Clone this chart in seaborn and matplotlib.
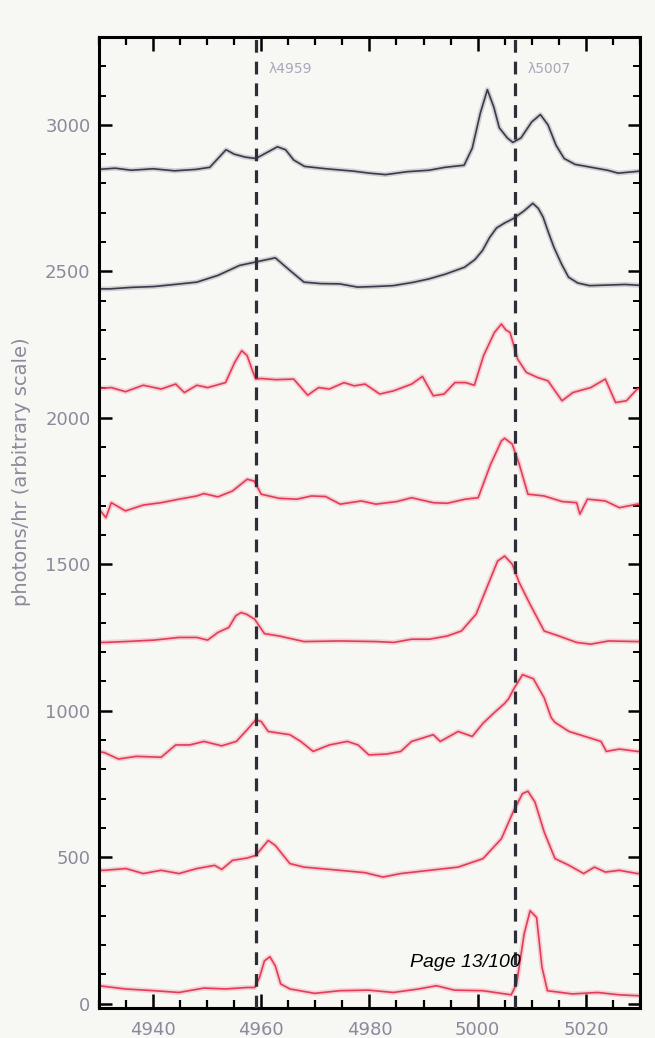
import matplotlib
matplotlib.use("Agg")
import matplotlib.pyplot as plt
import seaborn as sns
import pandas as pd
from matplotlib.ticker import MultipleLocator

# ---------------- data ----------------
wl_1 = [4930, 4933, 4936, 4940, 4944, 4948, 4950.5, 4952, 4953.5, 4955, 4957, 4959, 4961, 4963,
        4964.5, 4966, 4968, 4972, 4977, 4980, 4983, 4987, 4991, 4994, 4997.5, 4999, 5000.5,
        5001.8, 5003, 5004, 5005.5, 5006.5, 5008, 5010, 5011.6, 5013, 5014.5, 5016, 5018,
        5021, 5024, 5026, 5030]
flux_1 = [2848, 2852, 2845, 2850, 2843, 2848, 2855, 2885, 2915, 2900, 2890, 2885, 2905, 2925,
          2915, 2880, 2858, 2850, 2842, 2835, 2830, 2840, 2845, 2855, 2862, 2920, 3040,
          3120, 3060, 2990, 2955, 2940, 2955, 3010, 3035, 3000, 2930, 2885, 2865,
          2855, 2845, 2835, 2842]

wl_2 = [4930, 4932, 4936, 4940.2, 4944, 4948.1, 4952, 4956, 4958.8, 4962.6, 4965.3, 4967.9,
        4971, 4974.5, 4977.8, 4981, 4984.4, 4988, 4991, 4994, 4997.6, 4999.5, 5000.9, 5002.2,
        5003.5, 5005, 5006.5, 5008.5, 5010.2, 5011.2, 5012.1, 5013.1, 5014.1, 5015.5, 5016.8,
        5018.5, 5020.7, 5024, 5027.3, 5030]
flux_2 = [2440, 2440, 2445, 2448, 2455, 2463, 2486, 2520, 2531, 2546, 2503, 2463,
          2458, 2457, 2446, 2448, 2451, 2462, 2474, 2490, 2514, 2540, 2571, 2615,
          2648, 2665, 2679, 2705, 2732, 2715, 2685, 2632, 2582, 2525, 2480,
          2460, 2451, 2453, 2455, 2452]

wl_3 = [4930, 4932.3, 4934.9, 4938.2, 4941.5, 4944.2, 4945.8, 4948.1, 4950.1, 4953.4, 4955.1,
        4956.4, 4957.4, 4958.4, 4959, 4960, 4962.7, 4966, 4968.6, 4970.6, 4972.6, 4975.3,
        4977.2, 4979.2, 4981.9, 4984.5, 4987.8, 4989.8, 4991.8, 4993.8, 4995.8, 4997.8,
        4999.4, 5001.1, 5003.1, 5004.4, 5005.2, 5006, 5007.4, 5009, 5011, 5013, 5015.6,
        5017.6, 5020.9, 5023.6, 5025.5, 5027.5, 5029.5, 5030]
flux_3 = [2100, 2103, 2089, 2111, 2098, 2115, 2086, 2111, 2103, 2120, 2189,
          2229, 2212, 2160, 2132, 2134, 2130, 2132, 2077, 2103, 2098, 2120,
          2109, 2115, 2081, 2092, 2115, 2141, 2075, 2081, 2120, 2120,
          2111, 2212, 2291, 2320, 2300, 2291, 2200, 2155, 2138, 2126, 2058,
          2086, 2103, 2132, 2052, 2058, 2098, 2100]

wl_4 = [4930.3, 4931.3, 4932.3, 4934.9, 4938.2, 4941.5, 4944.8, 4948.1, 4949.4, 4952, 4954.7,
        4957.4, 4958.7, 4960, 4963.3, 4966.6, 4969.3, 4971.9, 4974.6, 4978.5, 4981.2, 4985.1,
        4987.8, 4991.8, 4994.4, 4997.7, 5000.1, 5002.4, 5004.4, 5005, 5006.4, 5007.7, 5009.3,
        5012.3, 5015.6, 5018.3, 5018.9, 5020.3, 5023.6, 5026.2, 5029.5, 5030]
flux_4 = [1682, 1659, 1710, 1682, 1702, 1710, 1722, 1733, 1741, 1730, 1750,
          1790, 1784, 1739, 1725, 1722, 1733, 1731, 1705, 1716, 1705, 1714,
          1727, 1710, 1708, 1722, 1727, 1841, 1921, 1930, 1910, 1841, 1739,
          1733, 1714, 1710, 1671, 1722, 1716, 1693, 1705, 1705]

wl_5 = [4930, 4931, 4934.9, 4940.2, 4944.8, 4948.1, 4950.1, 4952, 4954, 4955.3, 4956.3, 4957.3,
        4958.8, 4960.6, 4963.3, 4967.9, 4974.5, 4981.2, 4984.5, 4987.8, 4991.1, 4994.4, 4997,
        4999.7, 5001.7, 5003.7, 5005, 5006.4, 5007.7, 5009.7, 5012.3, 5015, 5018.3, 5020.9,
        5024.2, 5029.5, 5030]
flux_5 = [1233, 1233, 1236, 1241, 1250, 1250, 1241, 1267, 1284, 1324, 1335, 1329,
          1312, 1263, 1255, 1236, 1238, 1236, 1233, 1244, 1244, 1255, 1272,
          1329, 1420, 1511, 1528, 1500, 1437, 1363, 1272, 1255, 1233, 1227,
          1238, 1236, 1236]

wl_6 = [4930, 4931, 4933.6, 4936.9, 4941.5, 4944.2, 4946.8, 4949.4, 4952.7, 4955.4, 4957.4,
        4959, 4960, 4961.3, 4965.3, 4967.3, 4969.6, 4972.6, 4975.9, 4977.9, 4979.9, 4983.2,
        4985.8, 4987.8, 4991.8, 4993.1, 4996.4, 4999, 5001, 5003, 5005, 5005.7, 5006.7,
        5008.3, 5010.3, 5012.3, 5013.6, 5014.3, 5016.9, 5020.9, 5022.8, 5023.8, 5026.2,
        5029.5, 5030]
flux_6 = [860, 857, 835, 844, 841, 883, 883, 895, 880, 895, 935,
          969, 963, 929, 918, 895, 861, 883, 895, 883, 849, 852,
          861, 895, 918, 895, 929, 912, 957, 992, 1025, 1040, 1075,
          1123, 1109, 1044, 976, 960, 929, 906, 895, 861, 869,
          861, 860]

wl_7 = [4930, 4931, 4935, 4938.2, 4941.5, 4944.8, 4948.1, 4951.4, 4952.7, 4954.7, 4957.4,
        4959, 4961.3, 4962.6, 4965.3, 4967.9, 4974.5, 4979.2, 4982.5, 4985.8, 4991.1, 4996.4,
        5001, 5004.4, 5006.7, 5008.3, 5009.3, 5010.6, 5012.3, 5014.3, 5016.9, 5019.6, 5021.6,
        5023.6, 5026.2, 5029.5, 5030]
flux_7 = [455, 455, 461, 444, 455, 444, 461, 472, 458, 489, 497,
          506, 557, 540, 478, 466, 455, 447, 432, 444, 455, 466,
          495, 563, 660, 717, 725, 688, 586, 495, 472, 444, 466,
          449, 455, 444, 444]

wl_8 = [4930, 4934.9, 4940.2, 4944.8, 4949.4, 4953.4, 4957.4, 4958.8, 4959.7, 4960.6, 4961.6,
        4962.6, 4963.6, 4965.3, 4969.9, 4974.5, 4979.8, 4984.4, 4989.1, 4992.4, 4995.7, 5001,
        5006.2, 5007.2, 5008.6, 5009.7, 5010.9, 5011.9, 5012.9, 5017.5, 5022.2, 5026.2,
        5029.5, 5030]
flux_8 = [61, 50, 44, 38, 53, 50, 55, 55, 90, 146, 160,
          129, 67, 50, 35, 44, 46, 38, 50, 61, 46, 44,
          30, 67, 238, 317, 294, 124, 44, 33, 38, 30,
          27, 27]

line_wavelengths = [4959, 5007]
line_labels = ["λ4959", "λ5007"]
x_ticks = [4940, 4960, 4980, 5000, 5020]
y_ticks = [0, 500, 1000, 1500, 2000, 2500, 3000]
y_label = "photons/hr (arbitrary scale)"
page_text = "Page 13/100"

# ---------------- style ----------------
BG = "#f7f7f4"
DARK = "#3a3a4c"
RED = "#e43c57"
GREY = "#8a8a9c"

sns.set_theme(style="ticks")
plt.rcParams['font.family'] = ['DejaVu Sans']

fig = plt.figure(figsize=(6.55, 10.38), dpi=100, facecolor=BG)
ax = fig.add_axes([0.151, 0.0289, 0.826, 0.9355])
ax.set_facecolor(BG)

series = [(wl_1, flux_1, DARK), (wl_2, flux_2, DARK), (wl_3, flux_3, RED),
          (wl_4, flux_4, RED), (wl_5, flux_5, RED), (wl_6, flux_6, RED),
          (wl_7, flux_7, RED), (wl_8, flux_8, RED)]

for wl, fl, col in series:
    df = pd.DataFrame({"wavelength": wl, "flux": fl})
    sns.lineplot(data=df, x="wavelength", y="flux", ax=ax, color=col, lw=3.6,
                 alpha=0.2, estimator=None, sort=False, legend=False)
    sns.lineplot(data=df, x="wavelength", y="flux", ax=ax, color=col, lw=1.2,
                 alpha=1.0, estimator=None, sort=False, legend=False)

for xv, lab in zip(line_wavelengths, line_labels):
    ax.axvline(xv, color="#2e2e38", lw=2.3, linestyle=(0, (4, 2.8)), zorder=5)
    ax.text(xv + 2.3, 3190, lab, color="#a8a8bc", fontsize=10, va="center", ha="left")

ax.set_xlim(4930, 5030)
ax.set_ylim(-15, 3300)
ax.set_xticks(x_ticks)
ax.set_yticks(y_ticks)
ax.xaxis.set_minor_locator(MultipleLocator(5))
ax.yaxis.set_minor_locator(MultipleLocator(100))

ax.tick_params(axis='x', which='major', direction='in', length=10, width=1.8,
               top=True, bottom=True, pad=9, labelsize=13, labelcolor=GREY, color='black')
ax.tick_params(axis='x', which='minor', direction='in', length=5.5, width=1.6,
               top=True, bottom=True, color='black')
ax.tick_params(axis='y', which='major', direction='in', length=9, width=1.8,
               left=True, right=True, pad=6, labelsize=13, labelcolor=GREY, color='black')
ax.tick_params(axis='y', which='minor', direction='in', length=5, width=1.4,
               left=True, right=True, color='black')

for sp in ax.spines.values():
    sp.set_visible(True)
    sp.set_linewidth(2.2)
    sp.set_color('black')

ax.set_xlabel("")
ax.set_ylabel(y_label, color=GREY, fontsize=14)
ax.yaxis.set_label_coords(-0.126, 0.552)

fig.text(0.626, 0.073, page_text, style='italic', fontsize=14,
         family=['Liberation Sans', 'DejaVu Sans'], va='center', ha='left', color='black')

fig.savefig("out.png", dpi=100, facecolor=BG)
